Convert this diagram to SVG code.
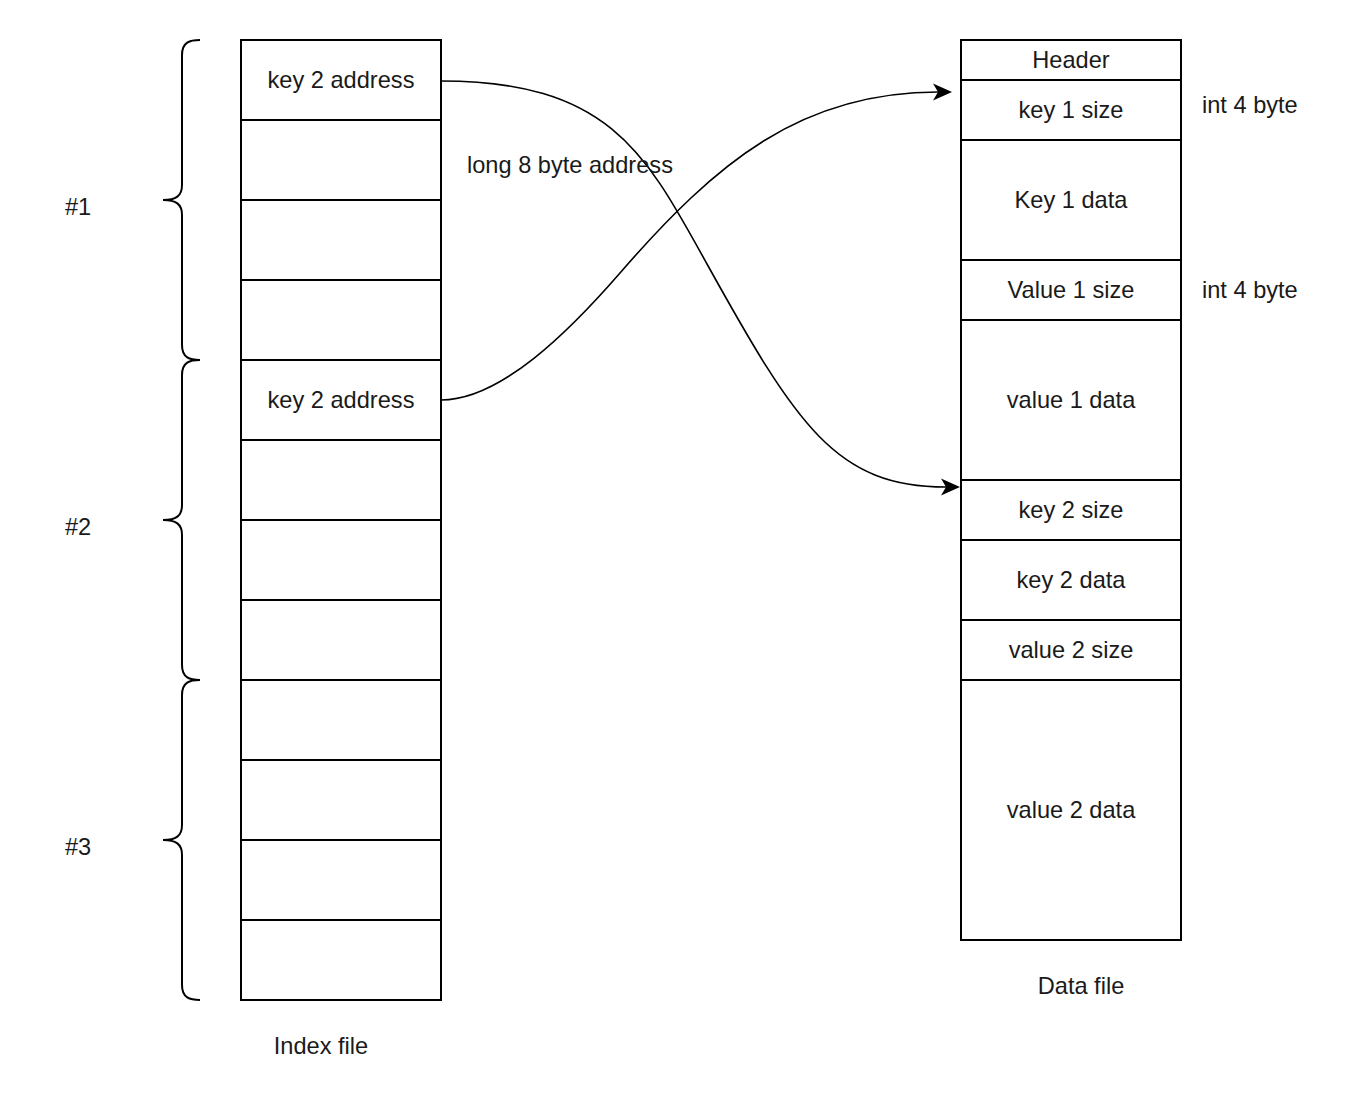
<svg xmlns="http://www.w3.org/2000/svg" width="1362" height="1118" viewBox="0 0 1362 1118">
<style>
.box{fill:#fff;stroke:#000;stroke-width:2}
.ln{stroke:#000;stroke-width:2;fill:none}
.br{stroke:#000;stroke-width:2;fill:none}
.t{font-family:"Liberation Sans",Arial,Helvetica,sans-serif;font-size:23.6px;fill:#1a1a1a}
.c{text-anchor:middle}
.edge{stroke:#000;stroke-width:1.6;fill:none}
</style>
<defs>
<marker id="arr" markerUnits="userSpaceOnUse" markerWidth="22" markerHeight="20" viewBox="0 0 22 20" refX="5" refY="9" orient="auto">
<path d="M0,0.5 L19,9 L0,17.5 L5,9 Z" fill="#000"/>
</marker>
</defs>
<rect width="1362" height="1118" fill="#fff"/>

<g id="braces">
<path class="br" d="M200,40 C190,40 182,42 182,55 L182,185 C182,196 176,200 163,200 C176,200 182,204 182,215 L182,345 C182,358 190,360 200,360"/>
<path class="br" d="M200,360 C190,360 182,362 182,375 L182,505 C182,516 176,520 163,520 C176,520 182,524 182,535 L182,665 C182,678 190,680 200,680"/>
<path class="br" d="M200,680 C190,680 182,682 182,695 L182,825 C182,836 176,840 163,840 C176,840 182,844 182,855 L182,985 C182,998 190,1000 200,1000"/>
</g>
<g id="brace-labels">
<text class="t c" x="78" y="215">#1</text>
<text class="t c" x="78" y="535">#2</text>
<text class="t c" x="78" y="855">#3</text>
</g>

<g id="index-file">
<rect class="box" x="241" y="40" width="200" height="960"/>
<path class="ln" d="M241,120H441M241,200H441M241,280H441M241,360H441M241,440H441M241,520H441M241,600H441M241,680H441M241,760H441M241,840H441M241,920H441"/>
<text class="t c" x="341" y="88">key 2 address</text>
<text class="t c" x="341" y="408">key 2 address</text>
</g>
<text id="index-label" class="t c" x="321" y="1054">Index file</text>

<g id="data-file">
<rect class="box" x="961" y="40" width="220" height="900"/>
<path class="ln" d="M961,80H1181M961,140H1181M961,260H1181M961,320H1181M961,480H1181M961,540H1181M961,620H1181M961,680H1181"/>
<text class="t c" x="1071" y="68">Header</text>
<text class="t c" x="1071" y="118">key 1 size</text>
<text class="t c" x="1071" y="208">Key 1 data</text>
<text class="t c" x="1071" y="298">Value 1 size</text>
<text class="t c" x="1071" y="408">value 1 data</text>
<text class="t c" x="1071" y="518">key 2 size</text>
<text class="t c" x="1071" y="588">key 2 data</text>
<text class="t c" x="1071" y="658">value 2 size</text>
<text class="t c" x="1071" y="818">value 2 data</text>
</g>
<text id="data-label" class="t c" x="1081" y="994">Data file</text>

<g id="annotations">
<text class="t" x="1202" y="113">int 4 byte</text>
<text class="t" x="1202" y="298">int 4 byte</text>
</g>

<g id="connectors">
<path class="edge" marker-end="url(#arr)" d="M441,81 C611,81 647,156 707,264 C797,426 836,487 946,487"/>
<path class="edge" marker-end="url(#arr)" d="M441,400 C501,400 570,330.5 620,273 C717,161 802,92 938,92"/>
<text class="t" x="467" y="173">long 8 byte address</text>
</g>
</svg>
